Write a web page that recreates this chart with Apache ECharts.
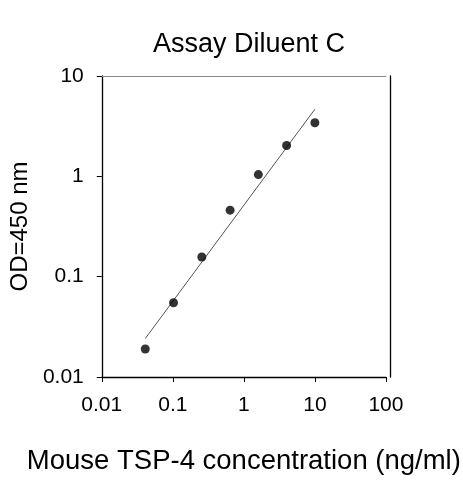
<!DOCTYPE html>
<html>
<head>
<meta charset="utf-8">
<script src="https://cdn.jsdelivr.net/npm/echarts@6/dist/echarts.min.js"></script>
<style>
html,body{margin:0;padding:0;background:#fff;}
#chart{width:463px;height:480px;}
</style>
</head>
<body>
<div id="chart"></div>
<script>
const concentrations = [0.04096, 0.1024, 0.256, 0.64, 1.6, 4, 10];
const odValues = [0.019, 0.055, 0.157, 0.46, 1.04, 2.03, 3.42];
const fitX = [0.041, 10];
const fitY = [0.0242, 4.67];
const xTickLabels = ['0.01', '0.1', '1', '10', '100'];
const yTickLabels = ['0.01', '0.1', '1', '10'];

const font = 'Liberation Sans, Arial, sans-serif';
function fmt(v, labels) {
  const s = labels.find(l => Math.abs(parseFloat(l) - v) / v < 1e-6);
  return s !== undefined ? s : '';
}

const chart = echarts.init(document.getElementById('chart'), null, {renderer: 'canvas'});
chart.setOption({
  animation: false,
  backgroundColor: '#fff',
  title: {
    text: 'Assay Diluent C',
    left: 244,
    top: 26,
    textAlign: 'center',
    textStyle: {fontFamily: font, fontSize: 27, fontWeight: 'normal', color: '#000'}
  },
  grid: {left: 100, right: 75, top: 76, bottom: 99, containLabel: false},
  xAxis: [{
    type: 'log', logBase: 10, min: 0.01, max: 100,
    name: 'Mouse TSP-4 concentration (ng/ml)',
    nameLocation: 'middle', nameGap: 70,
    nameTextStyle: {fontFamily: font, fontSize: 27.5, color: '#000'},
    axisLine: {lineStyle: {color: '#000', width: 1.3}},
    axisTick: {inside: false, length: 5, lineStyle: {color: '#000'}},
    minorTick: {show: false},
    splitLine: {show: false},
    axisLabel: {fontFamily: font, fontSize: 21, color: '#000', margin: 18,
      formatter: v => fmt(v, xTickLabels)}
  }, {
    type: 'log', logBase: 10, min: 0.01, max: 100, position: 'top',
    axisLine: {show: true, lineStyle: {color: '#888', width: 1}},
    axisTick: {show: false}, axisLabel: {show: false}, splitLine: {show: false}
  }],
  yAxis: [{
    type: 'log', logBase: 10, min: 0.01, max: 10,
    name: 'OD=450 nm',
    nameLocation: 'middle', nameGap: 61, nameRotate: 90,
    nameTextStyle: {fontFamily: font, fontSize: 24, color: '#000'},
    axisLine: {show: true, lineStyle: {color: '#000', width: 1.3}},
    axisTick: {show: true, length: 5, lineStyle: {color: '#000'}},
    minorTick: {show: false},
    splitLine: {show: false},
    axisLabel: {fontFamily: font, fontSize: 21, color: '#000', margin: 18,
      formatter: v => fmt(v, yTickLabels)}
  }, {
    type: 'log', logBase: 10, min: 0.01, max: 10, position: 'right', offset: 4,
    axisLine: {show: true, lineStyle: {color: '#000', width: 1.3}},
    axisTick: {show: false}, axisLabel: {show: false}, splitLine: {show: false}
  }],
  series: [{
    type: 'line',
    data: fitX.map((x, i) => [x, fitY[i]]),
    showSymbol: false,
    lineStyle: {color: '#555', width: 1},
    z: 1
  }, {
    type: 'scatter',
    data: concentrations.map((x, i) => [x, odValues[i]]),
    symbol: 'circle', symbolSize: 9,
    itemStyle: {color: '#000'},
    z: 2
  }]
});
</script>
</body>
</html>
